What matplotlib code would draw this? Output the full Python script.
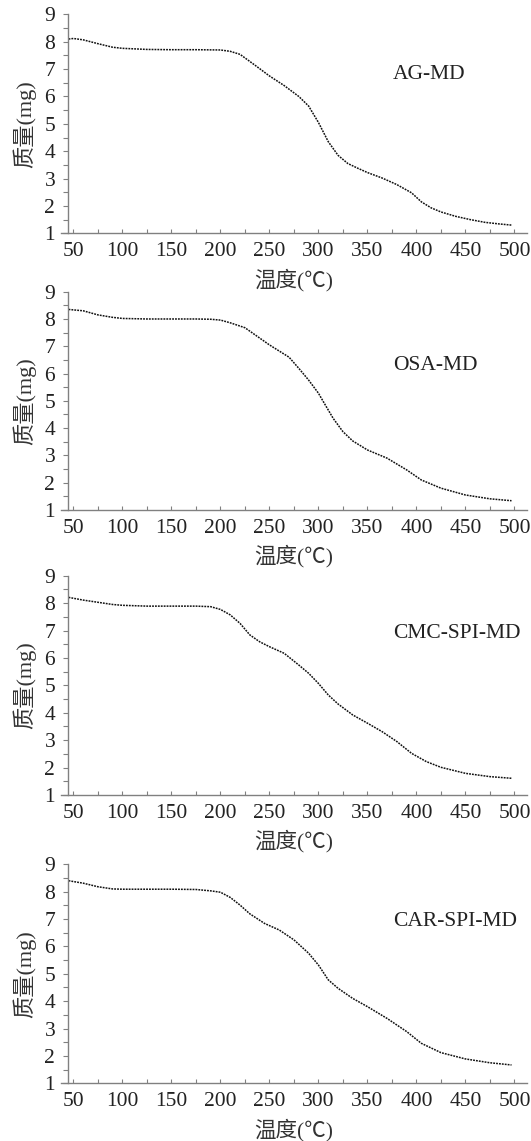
import numpy as np
import matplotlib
matplotlib.use("Agg")
import matplotlib.pyplot as plt
from matplotlib.ticker import MultipleLocator

plt.rcParams['font.family'] = ['Liberation Serif', 'Noto Sans CJK SC', 'DejaVu Sans']

# ---- data ----
ag_x = [45, 50, 60, 75, 90, 100, 125, 150, 175, 200, 210, 220, 235, 250, 265, 280, 290,
        300, 310, 320, 330, 340, 350, 365, 380, 395, 405, 415, 425, 440, 455, 470, 485, 497]
ag_y = [8.10, 8.12, 8.07, 7.93, 7.80, 7.76, 7.72, 7.71, 7.71, 7.70, 7.65, 7.54, 7.15, 6.75,
        6.40, 6.00, 5.65, 5.05, 4.35, 3.85, 3.55, 3.38, 3.22, 3.02, 2.78, 2.48, 2.15, 1.93,
        1.78, 1.62, 1.50, 1.40, 1.34, 1.30]

osa_x = [45, 60, 75, 90, 100, 125, 150, 175, 190, 200, 210, 225, 250, 270, 280, 290, 300,
         305, 315, 325, 335, 350, 370, 390, 405, 425, 450, 475, 497]
osa_y = [8.35, 8.30, 8.15, 8.06, 8.02, 8.00, 8.00, 8.00, 7.99, 7.96, 7.86, 7.68, 7.05, 6.60,
         6.19, 5.76, 5.28, 4.97, 4.36, 3.87, 3.53, 3.20, 2.90, 2.47, 2.10, 1.80, 1.55, 1.41, 1.34]

cmc_x = [45, 60, 75, 90, 100, 125, 150, 175, 190, 200, 210, 220, 230, 240, 250, 265, 280,
         290, 300, 310, 320, 335, 350, 365, 380, 395, 410, 425, 450, 475, 497]
cmc_y = [8.21, 8.11, 8.03, 7.95, 7.92, 7.89, 7.89, 7.89, 7.87, 7.77, 7.57, 7.26, 6.84, 6.59,
         6.41, 6.17, 5.74, 5.44, 5.07, 4.65, 4.32, 3.92, 3.62, 3.31, 2.95, 2.52, 2.22, 2.01,
         1.79, 1.67, 1.61]

car_x = [45, 60, 75, 90, 100, 125, 150, 175, 190, 200, 210, 220, 230, 245, 260, 275, 290,
         300, 310, 320, 335, 350, 370, 390, 405, 425, 450, 475, 497]
car_y = [8.40, 8.31, 8.18, 8.10, 8.09, 8.09, 8.09, 8.08, 8.03, 7.98, 7.79, 7.51, 7.19, 6.84,
         6.60, 6.24, 5.75, 5.32, 4.78, 4.47, 4.10, 3.80, 3.37, 2.89, 2.46, 2.12, 1.89, 1.75, 1.67]

names = ['AG-MD', 'OSA-MD', 'CMC-SPI-MD', 'CAR-SPI-MD']
xs = [ag_x, osa_x, cmc_x, car_x]
ys = [ag_y, osa_y, cmc_y, car_y]
name_y = [6.79, 6.31, 6.88, 6.90]

# panel pixel extents (top of y=9, bottom of y=1)
W, H = 531, 1141
panels = [(14.4, 233.3), (291.7, 510.0), (575.7, 795.0), (864.3, 1083.3)]
left_px, right_px = 60.7, 526.7

fig = plt.figure(figsize=(W / 100, H / 100), dpi=100)
grey = '#808080'
for i in range(4):
    top, bot = panels[i]
    ax = fig.add_axes([left_px / W, 1 - bot / H, (right_px - left_px) / W, (bot - top) / H])
    ax.plot(xs[i], ys[i], color='#111111', lw=1.1, ls=(0, (1.2, 0.7)))
    ax.set_xlim(37, 512.5)
    ax.set_ylim(1, 9)
    ax.spines['top'].set_visible(False)
    ax.spines['right'].set_visible(False)
    ax.spines['left'].set_position(('data', 44.9))
    for s in ['left', 'bottom']:
        ax.spines[s].set_color(grey)
        ax.spines[s].set_linewidth(1.0)
    ax.xaxis.set_minor_locator(MultipleLocator(25))
    ax.yaxis.set_major_locator(MultipleLocator(1))
    ax.yaxis.set_minor_locator(MultipleLocator(0.5))
    ax.set_xticks(np.arange(50, 501, 50))
    ax.tick_params(axis='x', which='both', direction='in', length=3, width=0.8,
                   color=grey, pad=6.5, labelsize=15.5, labelcolor='#222222')
    ax.tick_params(axis='y', which='both', direction='out', length=3.5, width=0.8,
                   color=grey, pad=6, labelsize=15.5, labelcolor='#222222')
    ax.set_xlabel('温度(℃)', fontsize=15.5, color='#333333', labelpad=5)
    ax.set_ylabel('质量(mg)', fontsize=16, color='#333333', labelpad=6)
    ax.text(376, name_y[i], names[i], fontsize=15.5, color='#222222', ha='left', va='center')

fig.savefig('out.png', dpi=100)
